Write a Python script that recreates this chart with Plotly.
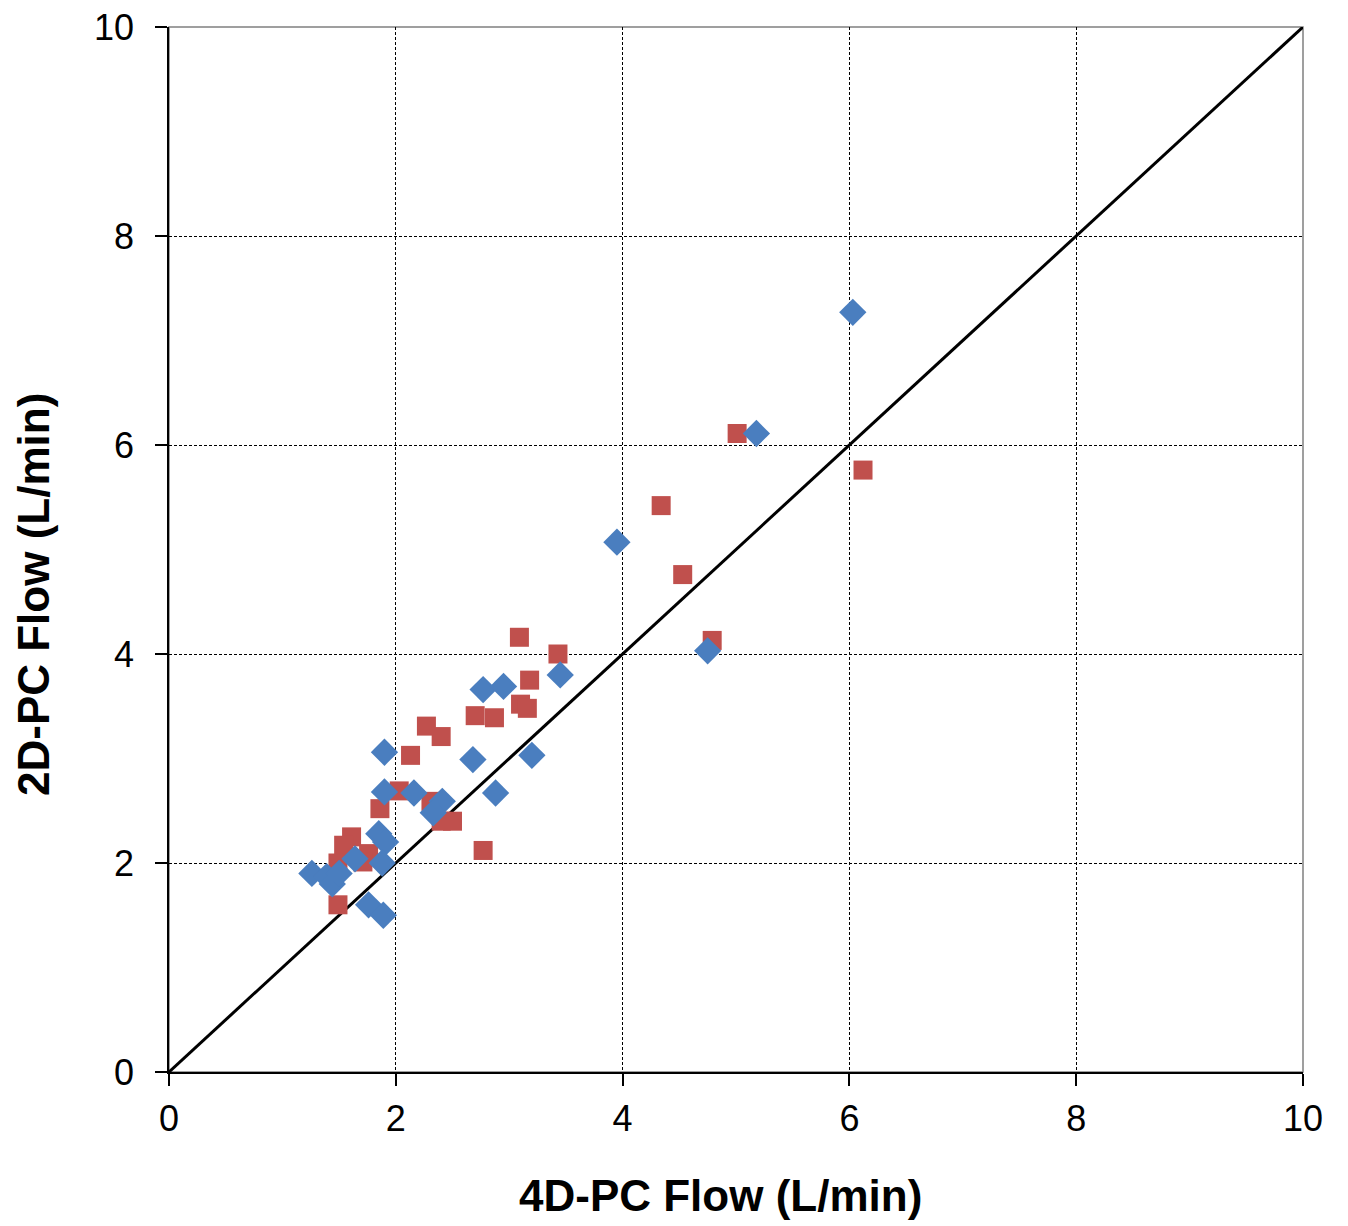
import plotly.graph_objects as go

# Red squares series
red_x = [3.09, 3.43, 3.18, 3.10, 3.16, 2.70, 2.87, 2.27, 2.40, 2.13, 2.03, 2.31, 1.86,
         2.40, 2.50, 2.77, 1.61, 1.54, 1.76, 1.71, 1.49, 1.49,
         5.01, 6.12, 4.34, 4.53, 4.79]
red_y = [4.16, 4.00, 3.75, 3.52, 3.48, 3.41, 3.39, 3.31, 3.21, 3.03, 2.69, 2.59, 2.52,
         2.40, 2.40, 2.12, 2.25, 2.17, 2.09, 2.01, 2.00, 1.60,
         6.11, 5.76, 5.42, 4.76, 4.13]

# Blue diamonds series
blue_x = [3.45, 2.77, 2.95, 1.90, 2.68, 3.20, 1.90, 2.16, 2.88, 2.41, 2.33, 1.85, 1.91,
          1.64, 1.88, 1.26, 1.39, 1.44, 1.50, 1.76, 1.89,
          6.03, 5.18, 3.95, 4.75]
blue_y = [3.80, 3.66, 3.69, 3.06, 2.99, 3.03, 2.68, 2.67, 2.67, 2.59, 2.48, 2.28, 2.20,
          2.04, 2.00, 1.90, 1.87, 1.80, 1.90, 1.60, 1.50,
          7.27, 6.11, 5.07, 4.03]

identity = [0, 10]
tick_vals = [0, 2, 4, 6, 8, 10]

# target plot-area pixel bounds in the page (page has an 8px body margin)
PL, PR, PT, PB = 169, 1303, 27, 1072
OFF = 8

fig = go.Figure()
fig.add_trace(go.Scatter(x=identity, y=identity, mode="lines",
                         line=dict(color="black", width=3), hoverinfo="skip"))
fig.add_trace(go.Scatter(x=red_x, y=red_y, mode="markers",
                         marker=dict(symbol="square", size=19, color="#C0504D")))
fig.add_trace(go.Scatter(x=blue_x, y=blue_y, mode="markers",
                         marker=dict(symbol="diamond", size=21, color="#4A7EBF")))

axis_common = dict(
    range=[0, 10], tickvals=tick_vals, ticks="outside", ticklen=12,
    tickcolor="black", tickwidth=1.5,
    showline=True, linecolor="black", linewidth=1.5,
    showgrid=True, gridcolor="black", gridwidth=1, griddash="3px,2px",
    zeroline=False, ticklabeloverflow="allow", automargin=False,
    tickfont=dict(family="Liberation Sans, Arial", size=36, color="black"),
)

fig.update_xaxes(**axis_common, ticklabelstandoff=2)
fig.update_yaxes(**axis_common, ticklabelstandoff=14)

# gray plot-area border on top and right
fig.add_shape(type="rect", xref="paper", yref="paper", x0=0, y0=0, x1=1, y1=1,
              line=dict(color="#808080", width=1.5), layer="below")

fig.add_annotation(text="<b>4D-PC Flow (L/min)</b>", xref="paper", yref="paper",
                   x=(720 - PL) / (PR - PL), y=(PB - 1195) / (PB - PT),
                   showarrow=False, xanchor="center", yanchor="middle",
                   font=dict(family="Liberation Sans, Arial", size=44, color="black"))
fig.add_annotation(text="<b>2D-PC Flow (L/min)</b>", xref="paper", yref="paper",
                   x=(33 - PL) / (PR - PL), y=(PB - 595) / (PB - PT),
                   showarrow=False, xanchor="center", yanchor="middle", textangle=-90,
                   font=dict(family="Liberation Sans, Arial", size=44, color="black"))

fig.update_layout(
    width=1348, height=1226,
    margin=dict(l=PL - OFF, r=1348 - PR + OFF, t=PT - OFF, b=1226 - PB + OFF),
    plot_bgcolor="white", paper_bgcolor="white",
    showlegend=False,
)

fig.write_html("out.html")
